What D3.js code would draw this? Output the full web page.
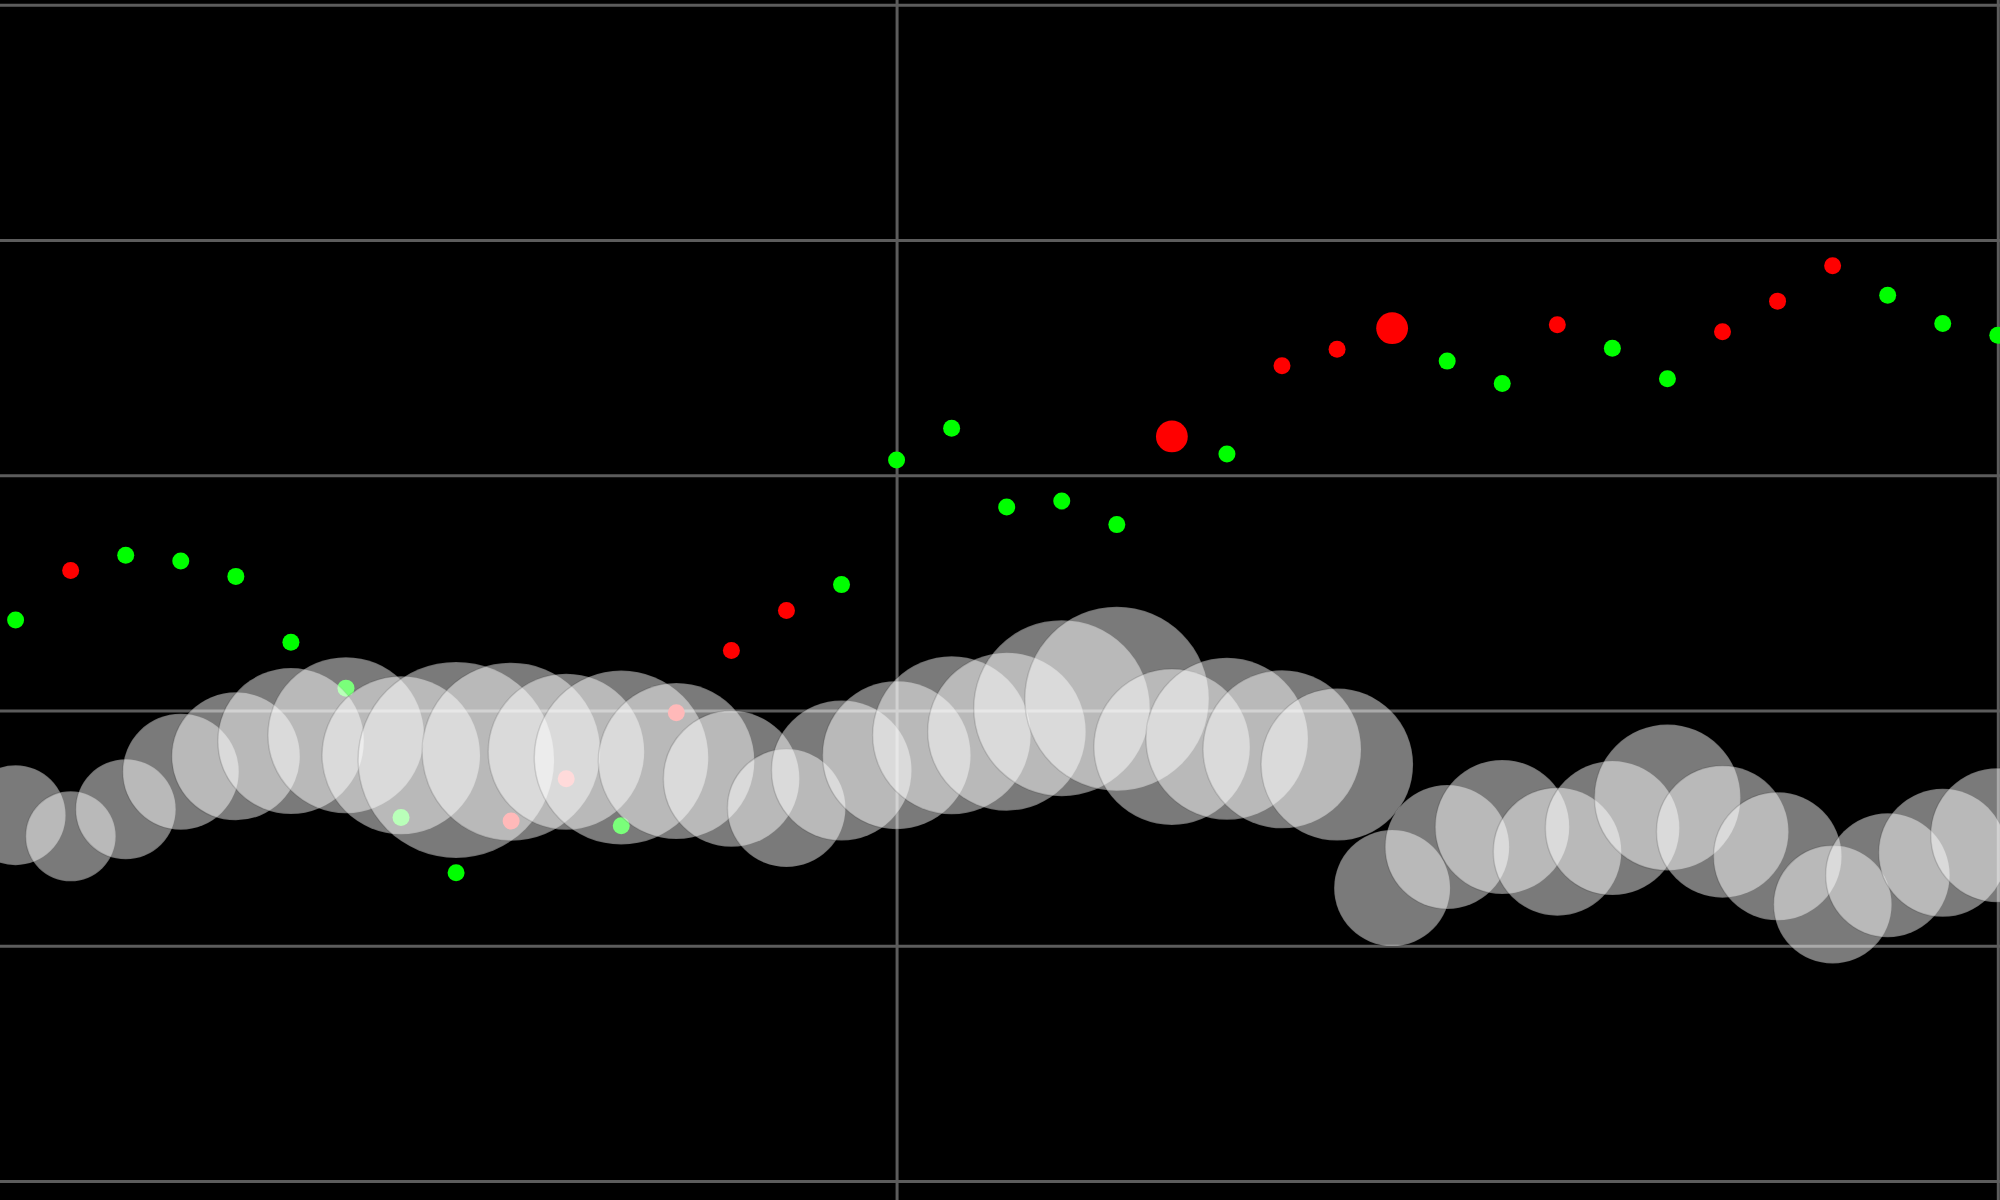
<!DOCTYPE html>
<html>
<head>
<meta charset="utf-8">
<script src="https://cdn.jsdelivr.net/npm/d3@7"></script>
<style>
  html, body { margin: 0; padding: 0; background: #000; }
  svg { display: block; }
</style>
</head>
<body>
<svg id="chart" width="2000" height="1200"></svg>
<script>
// ---- data ----
const times = ["09:44","09:45","09:46","09:47","09:48","09:49","09:50","09:51","09:52","09:53",
  "09:54","09:55","09:56","09:57","09:58","09:59","10:00","10:01","10:02","10:03",
  "10:04","10:05","10:06","10:07","10:08","10:09","10:10","10:11","10:12","10:13",
  "10:14","10:15","10:16","10:17","10:18","10:19","10:20"];
const tradePrice = [24.77,25.19,25.32,25.27,25.14,24.58,24.19,23.09,22.62,23.06,
  23.42,23.02,23.98,24.51,24.85,25.07,26.13,26.40,25.73,25.78,
  25.58,26.33,26.18,26.93,27.07,27.25,26.97,26.78,27.28,27.08,
  26.82,27.22,27.48,27.78,27.53,27.29,27.19];
const tradeSide = ["buy","sell","buy","buy","buy","buy","buy","buy","buy","sell",
  "sell","buy","sell","sell","sell","buy","buy","buy","buy","buy",
  "buy","sell","buy","sell","sell","sell","buy","buy","sell","buy",
  "buy","sell","sell","sell","buy","buy","buy"];
const tradeQty = [1,1,1,1,1,1,1,1,1,1,
  1,1,1,1,1,1,1,1,1,1,
  1,3.5,1,1,1,3.5,1,1,1,1,
  1,1,1,1,1,1,1];
const avgPrice = [23.11,22.93,23.16,23.48,23.61,23.74,23.79,23.62,23.58,23.65,
  23.65,23.60,23.57,23.42,23.17,23.49,23.62,23.79,23.82,24.02,
  24.10,23.69,23.76,23.67,23.54,22.49,22.84,23.01,22.80,23.00,
  23.26,22.97,22.76,22.35,22.60,22.79,22.94];
const volume = [2500,2025,2500,3364,4096,5329,6084,6241,9604,7921,
  6084,7569,6084,4624,3481,4900,5476,6241,6241,7744,
  8464,6084,6561,6241,5776,3364,3844,4489,4096,4489,
  5329,4356,4096,3481,3844,4096,4489];
const yTicks = [20,22,24,26,28,30];

// ---- scales ----
const W = 2000, H = 1200;
const parse = d3.timeParse("%H:%M");
const tDates = times.map(parse);
const x = d3.scaleTime().domain([tDates[0], tDates[tDates.length-1]]).range([15.6, 1997.8]);
const y = d3.scaleLinear().domain([20, 30]).range([1181, 4.7]);
const rDot = d3.scaleSqrt().domain([0, 4]).range([0, 17]);
const rBub = d3.scaleSqrt().domain([0, 10000]).range([0, 100]);
const sideColor = d3.scaleOrdinal().domain(["buy","sell"]).range(["#00ff00","#ff0000"]);

const svg = d3.select("#chart");
svg.append("rect").attr("width", W).attr("height", H).attr("fill", "#000");

// grid
const gy = svg.append("g")
  .call(d3.axisLeft(y).tickValues(yTicks).tickSize(-W).tickFormat(""));
gy.select(".domain").remove();
gy.selectAll(".tick line").attr("stroke", "#5c5c5c").attr("stroke-width", 3);

const gx = svg.append("g").attr("transform", `translate(0,${H})`)
  .call(d3.axisBottom(x).ticks(d3.timeMinute.every(20)).tickSize(-H).tickFormat(""));
gx.select(".domain").remove();
gx.selectAll(".tick line").attr("stroke", "#5c5c5c").attr("stroke-width", 3);

const data = times.map((t, i) => ({
  t: tDates[i], price: tradePrice[i], side: tradeSide[i], qty: tradeQty[i],
  avg: avgPrice[i], vol: volume[i]
}));

// trade dots
svg.append("g").selectAll("circle").data(data).join("circle")
  .attr("cx", d => x(d.t))
  .attr("cy", d => y(d.price))
  .attr("r", d => rDot(d.qty))
  .attr("fill", d => sideColor(d.side));

// volume bubbles
svg.append("g").selectAll("circle").data(data).join("circle")
  .attr("cx", d => x(d.t))
  .attr("cy", d => y(d.avg))
  .attr("r", d => rBub(d.vol))
  .attr("fill", "#ffffff")
  .attr("fill-opacity", 0.48)
  .attr("stroke", "rgba(0,0,0,0.12)")
  .attr("stroke-width", 1.5);
</script>
</body>
</html>
